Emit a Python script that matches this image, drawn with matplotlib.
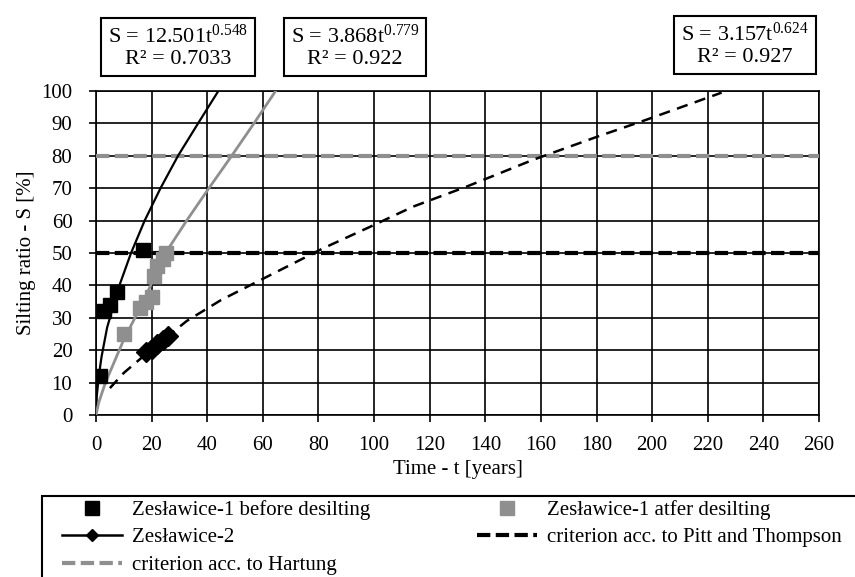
import matplotlib
matplotlib.use("Agg")
import matplotlib.pyplot as plt
import matplotlib.ticker as ticker
from matplotlib.patches import Rectangle

plt.rcParams['font.family'] = ['Liberation Serif', 'DejaVu Serif']
plt.rcParams['mathtext.fontset'] = 'custom'
plt.rcParams['mathtext.rm'] = 'Liberation Serif'
plt.rcParams['mathtext.it'] = 'Liberation Serif'

# ── Dane ─────────────────────────────────────────────────────────────────────
t_before = [1.5, 3, 5, 7.5, 17]
s_before = [12, 32, 34, 38, 51]

t_after = [10, 16, 18, 20, 21, 22, 24, 25]
s_after = [25, 33, 35, 36.5, 43, 46, 48, 50]

t_z2 = [18, 20, 22, 24, 26]
s_z2 = [19.5, 20.5, 22, 23, 24.5]

t_tr_before = [0, 0.3, 1, 2, 4, 8, 12.6, 17.5, 23.2, 29.5, 36.7, 44]
s_tr_before = [0, 6, 12, 18, 27, 39, 50, 60, 70, 80, 90, 100]

t_tr_after = [0, 1, 3.4, 10, 17, 25, 32.6, 40.6, 48.8, 56.8, 64.6]
s_tr_after = [0, 3.9, 10, 23.3, 35, 50, 60, 70, 80, 90, 100]

t_tr_z2 = [5, 10, 20, 32.6, 45, 65, 81.8, 98.6, 114, 133.3, 157, 180.6,
           197.5, 225]
s_tr_z2 = [8.3, 13, 20.3, 29, 35.5, 44.2, 51.5, 58.1, 64.3, 70.5, 78.7, 86,
           91, 99.5]

crit_pitt = 50
crit_hartung = 80

eq_labels = ["S = 12.501t$^{0.548}$\nR² = 0.7033",
             "S = 3.868t$^{0.779}$\nR² = 0.922",
             "S = 3.157t$^{0.624}$\nR² = 0.927"]

GRAY = '#8f8f8f'

# ── Wykres ───────────────────────────────────────────────────────────────────
fig = plt.figure(figsize=(8.55, 5.77), dpi=100)
ax = fig.add_axes([96/855, 1 - 415/577, 723/855, 324/577])

h_pitt = ax.axhline(crit_pitt, color='black', lw=3, dashes=(3.2, 1.3),
                    dash_capstyle='butt', zorder=3,
                    label='criterion acc. to Pitt and Thompson')
h_hart = ax.axhline(crit_hartung, color=GRAY, lw=3, dashes=(3.2, 1.3),
                    dash_capstyle='butt', zorder=3,
                    label='criterion acc. to Hartung')

ax.plot(t_tr_before, s_tr_before, color='black', lw=1.6, zorder=4)
ax.plot(t_tr_after, s_tr_after, color=GRAY, lw=2.0, zorder=4)
ax.plot(t_tr_z2, s_tr_z2, color='black', lw=1.8, dashes=(4.5, 3),
        dash_capstyle='butt', zorder=4)

h_before, = ax.plot(t_before, s_before, ls='none', marker='s', ms=10,
                    color='black', zorder=5,
                    label='Zesławice-1 before desilting')
h_after, = ax.plot(t_after, s_after, ls='none', marker='s', ms=10,
                   color=GRAY, zorder=5,
                   label='Zesławice-1 atfer desilting')
h_z2, = ax.plot(t_z2, s_z2, color='black', lw=1.8, marker='D', ms=10,
                zorder=5, label='Zesławice-2')

ax.set_xlim(0, 260)
ax.set_ylim(0, 100)
ax.xaxis.set_major_locator(ticker.MultipleLocator(20))
ax.yaxis.set_major_locator(ticker.MultipleLocator(10))
ax.grid(True, color='black', lw=1.2, zorder=1)
ax.set_axisbelow(True)
for sp in ax.spines.values():
    sp.set_linewidth(1.2)
ax.tick_params(axis='both', direction='out', length=5, width=1.2,
               labelsize=15)
ax.tick_params(axis='x', pad=10)
ax.tick_params(axis='y', pad=12)
ax.set_xlabel("Time - t [years]", fontsize=15, labelpad=4)
ax.set_ylabel("Silting ratio - S [%]", fontsize=15, labelpad=4)

# równania trendów
box = dict(boxstyle='square,pad=0.3', fc='white', ec='black', lw=1.5)
for x, y, txt in zip([178, 355, 745], [47, 47, 45], eq_labels):
    fig.text(x/855, 1 - y/577, txt, ha='center', va='center', fontsize=16,
             linespacing=1.2, bbox=box)

# legenda
fig.add_artist(Rectangle((42/855, -0.1), 1.0, 0.1 + 1 - 496/577,
                         transform=fig.transFigure, fill=False,
                         ec='black', lw=1.5))
leg_kw = dict(loc='upper left', frameon=False, fontsize=15, borderpad=0,
              borderaxespad=0, handlelength=2.9, handletextpad=0.45,
              labelspacing=0.38, numpoints=1)
leg1 = fig.legend([h_before, h_z2, h_hart],
                  [h.get_label() for h in [h_before, h_z2, h_hart]],
                  bbox_to_anchor=(62/855, 1 - 500/577), **leg_kw)
leg1.legend_handles[1].set_markersize(6)
fig.legend([h_after, h_pitt],
           [h.get_label() for h in [h_after, h_pitt]],
           bbox_to_anchor=(477/855, 1 - 500/577), **leg_kw)

fig.savefig('out.png', dpi=100)
